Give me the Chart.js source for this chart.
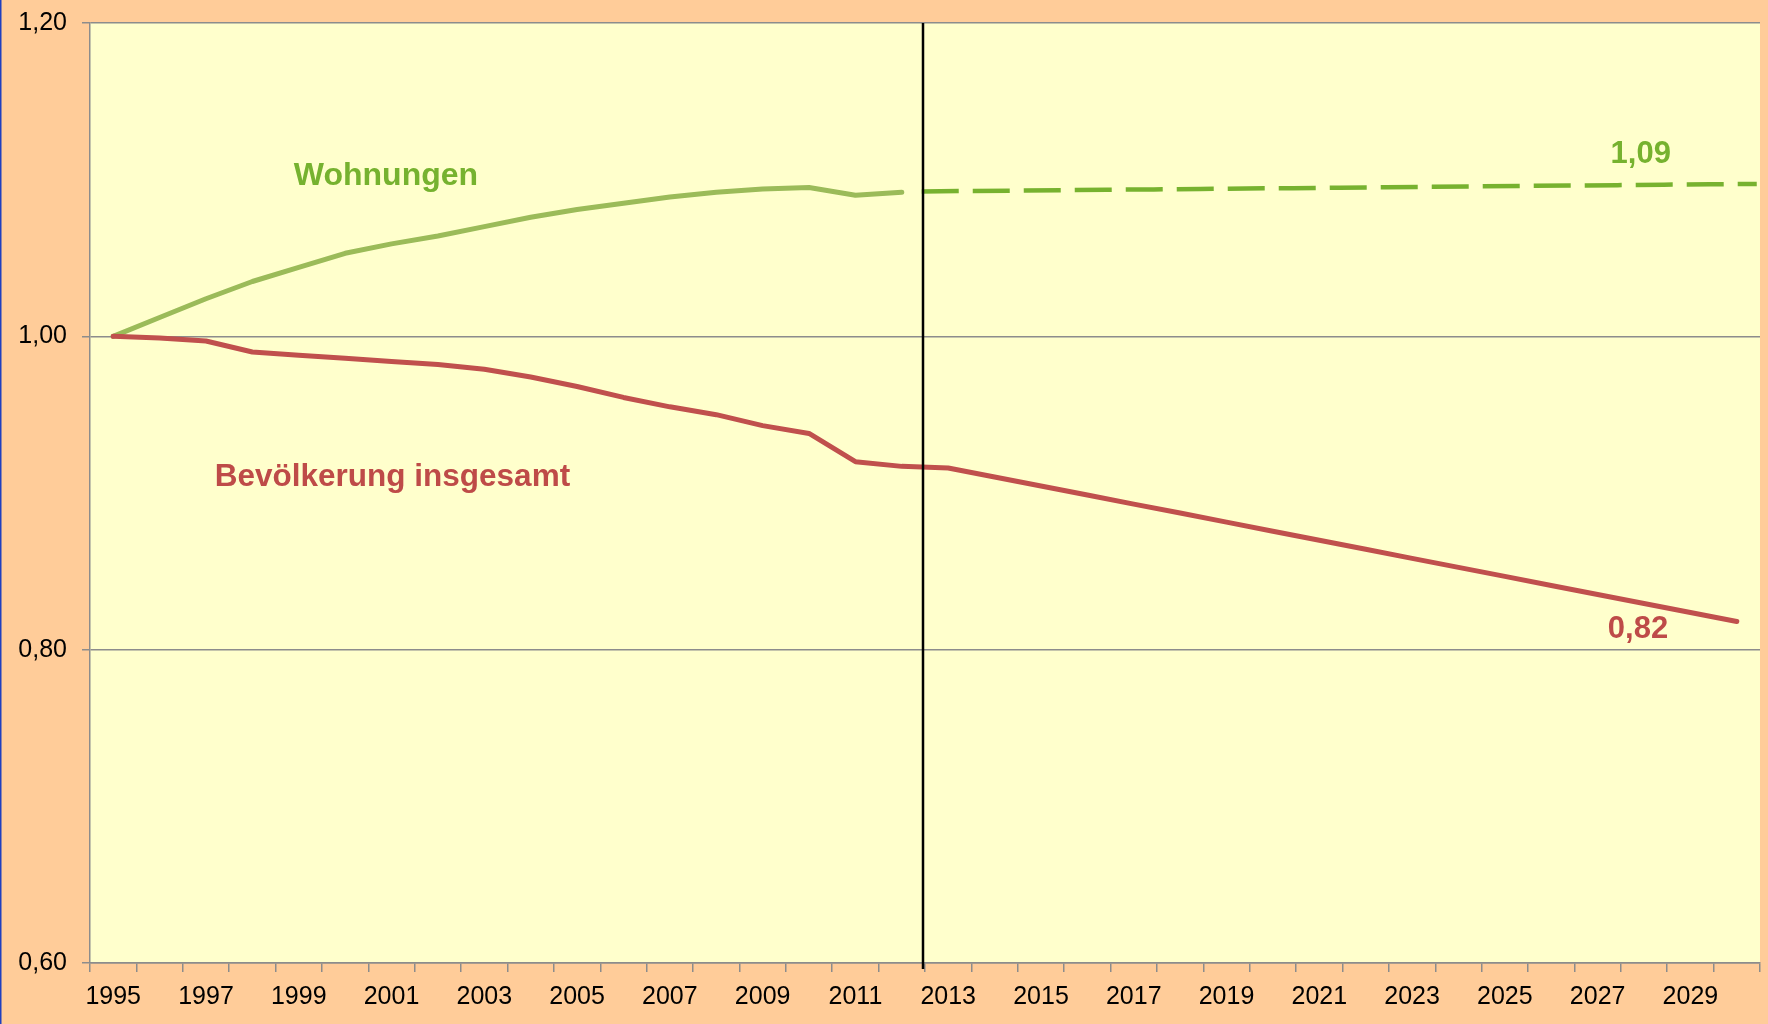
<!DOCTYPE html>
<html>
<head>
<meta charset="utf-8">
<script src="https://cdn.jsdelivr.net/npm/chart.js@4"></script>
<style>
  html, body { margin: 0; padding: 0; background: #FFCC99; }
  #wrap { width: 1768px; height: 1024px; position: relative; }
</style>
</head>
<body>
<div id="wrap"><canvas id="c"></canvas></div>
<script>
// ---- data ----
const years = ['1995','1996','1997','1998','1999','2000','2001','2002','2003','2004','2005','2006',
  '2007','2008','2009','2010','2011','2012','2013','2014','2015','2016','2017','2018','2019','2020',
  '2021','2022','2023','2024','2025','2026','2027','2028','2029','2030'];

const bevoelkerung = [1.000, 0.999, 0.997, 0.990, 0.988, 0.986, 0.984, 0.982, 0.979, 0.974, 0.968, 0.961,
  0.955, 0.950, 0.943, 0.938, 0.920, 0.917, 0.9160, 0.9102, 0.9045, 0.8987, 0.8929, 0.8872, 0.8814, 0.8756,
  0.8698, 0.8641, 0.8583, 0.8525, 0.8468, 0.8410, 0.8352, 0.8295, 0.8237, 0.8180];

const wohnungen = [1.000, 1.012, 1.024, 1.035, 1.044, 1.053, 1.059, 1.064, 1.070, 1.076, 1.081, 1.085,
  1.089, 1.092, 1.094, 1.095, 1.090, 1.092];

const projYears = [2012, 2013, 2014, 2015, 2016, 2017, 2018, 2019, 2020, 2021, 2022, 2023, 2024, 2025,
  2026, 2027, 2028, 2029, 2030];
const wohnungenProg = [1.0925, 1.0928, 1.0930, 1.0933, 1.0936, 1.0938, 1.0941, 1.0944, 1.0946, 1.0949,
  1.0952, 1.0954, 1.0957, 1.0960, 1.0962, 1.0965, 1.0968, 1.0970, 1.0973];

const yTicks = [0.60, 0.80, 1.00, 1.20];

const seriesNames = ['Bevölkerung insgesamt', 'Wohnungen'];
const endLabels = ['0,82', '1,09'];

// ---- styles ----
const RED = '#C0504D';
const RED_TXT = '#BE4B48';
const GREEN = '#9BBB59';
const GREEN_DASH = '#77B22F';
const GREEN_TXT = '#76B22F';
const GRID = '#8C8C8C';

Chart.defaults.font.family = "'Liberation Sans', Arial, sans-serif";
Chart.defaults.color = '#000';

const bgPlugin = {
  id: 'bg',
  beforeDraw(chart) {
    const { ctx, chartArea: a } = chart;
    ctx.save();
    ctx.fillStyle = '#FFCC99';
    ctx.fillRect(0, 0, chart.width, chart.height);
    ctx.fillStyle = '#FFFFCC';
    ctx.fillRect(a.left, a.top, a.right - a.left, a.bottom - a.top);
    ctx.fillStyle = '#1F3FBF';
    ctx.fillRect(0, 0, 1.5, chart.height);
    ctx.restore();
  }
};

const annoPlugin = {
  id: 'anno',
  afterDatasetsDraw(chart) {
    const { ctx, chartArea: a, scales } = chart;
    const x = scales.x, y = scales.y, x2 = scales.x2;
    ctx.save();
    const vx = Math.round(x2.getPixelForValue(projYears[0])) + 1;
    ctx.strokeStyle = '#000';
    ctx.lineWidth = 2.5;
    ctx.beginPath();
    ctx.moveTo(vx, a.top);
    ctx.lineTo(vx, a.bottom + 6);
    ctx.stroke();

    ctx.textAlign = 'center';
    ctx.textBaseline = 'alphabetic';
    const txt = (t, xi, yv, color, size) => {
      ctx.font = 'bold ' + size + "px 'Liberation Sans', Arial, sans-serif";
      ctx.fillStyle = color;
      ctx.fillText(t, x.getPixelForValue(xi), y.getPixelForValue(yv));
    };
    txt(seriesNames[1], 5.88, 1.0966, GREEN_TXT, 32);
    txt(seriesNames[0], 6.02, 0.9044, RED_TXT, 31.5);
    txt(endLabels[1], 32.93, 1.1104, GREEN_TXT, 31);
    txt(endLabels[0], 32.87, 0.8074, RED_TXT, 31);
    ctx.restore();
  }
};

new Chart(document.getElementById('c'), {
  type: 'line',
  data: {
    labels: years,
    datasets: [
      {
        label: seriesNames[0],
        data: bevoelkerung,
        borderColor: RED,
        borderWidth: 5,
        pointRadius: 0,
        tension: 0,
        borderCapStyle: 'round',
        borderJoinStyle: 'round',
        xAxisID: 'x'
      },
      {
        label: seriesNames[1],
        data: wohnungen,
        borderColor: GREEN,
        borderWidth: 5,
        pointRadius: 0,
        tension: 0,
        borderCapStyle: 'round',
        borderJoinStyle: 'round',
        xAxisID: 'x'
      },
      {
        label: seriesNames[1] + ' (Prognose)',
        data: projYears.map((yr, i) => ({ x: yr, y: wohnungenProg[i] })),
        borderColor: GREEN_DASH,
        borderWidth: 4.5,
        borderDash: [37, 14],
        pointRadius: 0,
        tension: 0,
        borderCapStyle: 'butt',
        xAxisID: 'x2'
      }
    ]
  },
  plugins: [bgPlugin, annoPlugin],
  options: {
    responsive: true,
    maintainAspectRatio: false,
    animation: false,
    events: [],
    layout: { padding: { top: 23, right: 8, left: 0, bottom: 0 } },
    plugins: { legend: { display: false }, tooltip: { enabled: false } },
    scales: {
      x: {
        type: 'category',
        offset: true,
        grid: {
          display: true,
          offset: true,
          drawOnChartArea: false,
          drawTicks: true,
          tickLength: 9,
          color: GRID,
          lineWidth: 1.5
        },
        border: { display: true, color: GRID, width: 1.5 },
        ticks: {
          autoSkip: false,
          maxRotation: 0,
          minRotation: 0,
          padding: 10,
          font: { size: 25 },
          color: '#000',
          callback: function (val, idx) { return idx % 2 === 0 ? this.getLabelForValue(val) : ''; }
        },
        afterFit(scale) { scale.height = 61; scale.paddingRight = 0; }
      },
      x2: {
        type: 'linear',
        display: false,
        min: 1994.07,
        max: 2030.07
      },
      y: {
        type: 'linear',
        min: 0.6,
        max: 1.2,
        afterBuildTicks(scale) { scale.ticks = yTicks.map(v => ({ value: v })); },
        grid: {
          color: GRID,
          lineWidth: 1.5,
          tickLength: 8,
          drawTicks: true
        },
        border: { display: true, color: GRID, width: 1.5 },
        ticks: {
          padding: 15,
          font: { size: 25 },
          color: '#000',
          callback: (v) => Number(v).toFixed(2).replace('.', ',')
        },
        afterFit(scale) { scale.width = 90; scale.paddingTop = 0; scale.paddingBottom = 0; }
      }
    }
  }
});
</script>
</body>
</html>
